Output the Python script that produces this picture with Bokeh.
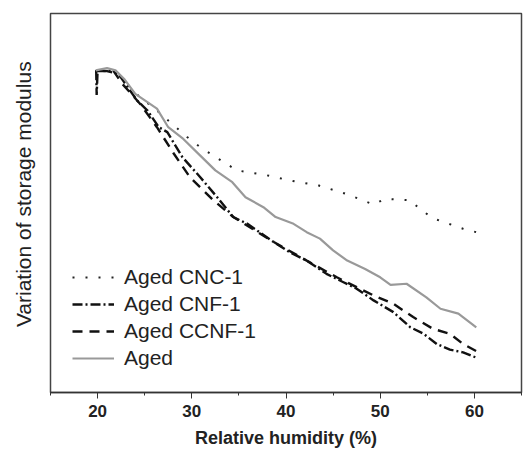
from bokeh.plotting import figure
from bokeh.models import FixedTicker, Legend, LegendItem, Range1d
from bokeh.embed import file_html
from bokeh.resources import INLINE

# Relative humidity (%) and relative storage modulus variation (arbitrary units)
aged_x = [19.8, 21.0, 21.9, 22.8, 24.0, 26.3, 27.5, 29.1, 30.9, 32.5, 34.3, 35.7, 37.6, 38.9,
          40.8, 42.2, 43.6, 45.0, 46.5, 48.4, 50.0, 51.1, 52.8, 54.9, 56.4, 58.3, 60.2]
aged_y = [85.0, 85.6, 85.0, 82.8, 78.8, 74.9, 70.0, 66.9, 62.5, 58.6, 55.5, 51.5, 48.9, 46.3,
          44.5, 42.3, 40.6, 37.5, 34.8, 32.6, 30.4, 28.4, 28.7, 25.1, 22.1, 20.8, 17.2]

cnc_x = [19.8, 21.9, 24.0, 26.3, 29.5, 30.9, 33.5, 34.8, 37.8, 40.7, 43.5, 46.4, 49.3, 50.5,
         53.2, 54.4, 55.8, 58.8, 60.2]
cnc_y = [84.8, 84.8, 79.0, 74.4, 67.4, 64.7, 60.6, 58.6, 57.4, 55.8, 54.6, 52.4, 49.6, 51.1,
         50.7, 48.0, 45.8, 43.2, 42.3]

cnf_x = [19.85, 19.9, 20.0, 21.0, 22.2, 24.2, 25.3, 26.5, 27.4, 29.0, 30.9, 32.7, 34.4, 35.9,
         38.7, 40.4, 42.2, 44.3, 46.1, 47.5, 49.3, 51.4, 53.2, 54.6, 56.0, 57.4, 58.8, 60.2]
cnf_y = [85.0, 78.5, 85.0, 84.8, 84.1, 77.0, 74.4, 70.0, 68.7, 62.1, 56.8, 51.5, 46.3, 44.5,
         39.7, 37.0, 34.8, 31.3, 29.1, 27.4, 24.3, 21.2, 17.2, 15.5, 12.8, 11.3, 10.6, 9.2]

ccnf_x = [19.8, 21.7, 22.6, 24.5, 26.3, 28.1, 29.8, 32.3, 34.4, 38.7, 42.2, 45.4, 47.5, 49.3,
          51.4, 53.5, 55.6, 57.4, 58.8, 60.2]
ccnf_y = [84.8, 84.8, 81.5, 76.2, 70.0, 63.0, 56.8, 50.7, 46.3, 39.7, 34.8, 30.4, 27.8, 25.6,
          23.4, 19.9, 16.8, 15.5, 12.8, 10.9]

x_ticks = [20, 30, 40, 50, 60]
x_minor = [15, 25, 35, 45, 55, 65]
labels = ["Aged CNC-1", "Aged CNF-1", "Aged CCNF-1", "Aged"]

p = figure(width=523, height=454, output_backend="svg", toolbar_location=None,
           x_range=Range1d(15, 65), y_range=Range1d(0, 100),
           min_border_left=50, min_border_right=2, min_border_top=13, min_border_bottom=62)
p.background_fill_color = "white"
p.border_fill_color = "white"
p.grid.visible = False
p.outline_line_color = "#444444"
p.outline_line_width = 1.5

ya = p.yaxis[0]
ya.ticker = FixedTicker(ticks=[], minor_ticks=[])
ya.axis_line_color = None
ya.major_tick_line_color = None
ya.minor_tick_line_color = None
ya.major_label_standoff = 0
ya.axis_label = "\u00a0\u00a0\u00a0Variation of storage modulus"
ya.axis_label_text_font = "Liberation Sans"
ya.axis_label_text_font_style = "normal"
ya.axis_label_text_font_size = "21px"
ya.axis_label_text_color = "#222222"
ya.axis_label_standoff = 16

xa = p.xaxis[0]
xa.ticker = FixedTicker(ticks=x_ticks, minor_ticks=x_minor)
xa.axis_line_color = "#333333"
xa.axis_line_width = 1.5
xa.major_tick_line_color = "#333333"
xa.minor_tick_line_color = "#333333"
xa.major_tick_out = 6
xa.major_tick_in = 0
xa.minor_tick_out = 3
xa.minor_tick_in = 0
xa.major_label_text_font = "Liberation Sans"
xa.major_label_text_font_style = "bold"
xa.major_label_text_font_size = "17px"
xa.major_label_text_color = "#222222"
xa.major_label_standoff = 6
xa.axis_label = "Relative humidity (%)"
xa.axis_label_text_font = "Liberation Sans"
xa.axis_label_text_font_style = "bold"
xa.axis_label_text_font_size = "18px"
xa.axis_label_text_color = "#222222"
xa.axis_label_standoff = 8

r_cnc = p.line(cnc_x, cnc_y, line_color="#222222", line_width=2, line_dash="2 11")
r_cnf = p.line(cnf_x, cnf_y, line_color="#111111", line_width=2.4, line_dash="10 3 2 3")
r_ccnf = p.line(ccnf_x, ccnf_y, line_color="#111111", line_width=2.4, line_dash="10 7")
r_aged = p.line(aged_x, aged_y, line_color="#999999", line_width=2.2)

legend = Legend(items=[LegendItem(label=labels[0], renderers=[r_cnc]),
                       LegendItem(label=labels[1], renderers=[r_cnf]),
                       LegendItem(label=labels[2], renderers=[r_ccnf]),
                       LegendItem(label=labels[3], renderers=[r_aged])],
                location=(22, 22), border_line_color=None, background_fill_alpha=0,
                glyph_width=42, glyph_height=22, label_height=22, label_standoff=10,
                spacing=3, padding=0, margin=0,
                label_text_font="Liberation Sans", label_text_font_size="21px",
                label_text_color="#222222")
p.add_layout(legend)

open("out.html", "w").write(file_html(p, INLINE))
